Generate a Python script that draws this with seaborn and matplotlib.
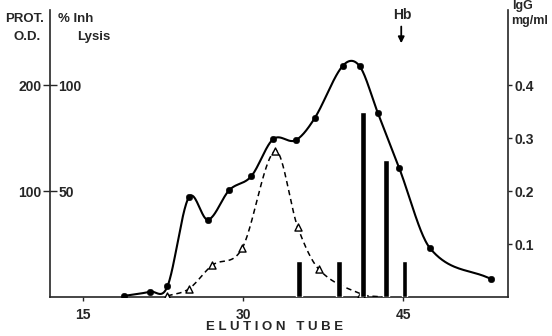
import matplotlib
matplotlib.use("Agg")
import matplotlib.pyplot as plt
import numpy as np
import pandas as pd
import seaborn as sns

# protein O.D. (solid curve, filled circles)
prot_tube = [18.8, 21.3, 22.9, 24.9, 26.7, 28.7, 30.75, 32.8, 34.9, 36.7, 39.3, 40.9, 42.6, 44.6, 47.5, 53.2]
prot_od = [1, 5, 10, 94, 73, 101, 114, 149, 148, 169, 218, 218, 174, 122, 46, 17]

# % inhibition of lysis (dashed curve, open triangles)
inh_tube = [22.9, 24.9, 27.1, 29.9, 33.0, 35.1, 37.1, 41.0]
inh_pct = [0.5, 3.8, 15, 23, 69, 33, 13, 1.5]
inh_tail_tube = [43.0]
inh_tail_pct = [0.0]

# IgG bars
igg_tube = [35.2, 39.0, 41.2, 43.4, 45.1]
igg_conc = [0.068, 0.068, 0.349, 0.258, 0.068]

hb_tube = 44.8


def smooth(x, y, n=40):
    # cubic hermite with catmull-rom style tangents
    x = np.asarray(x, float)
    y = np.asarray(y, float)
    m = np.zeros_like(y)
    m[1:-1] = (y[2:] - y[:-2]) / (x[2:] - x[:-2])
    m[0] = (y[1] - y[0]) / (x[1] - x[0])
    m[-1] = (y[-1] - y[-2]) / (x[-1] - x[-2])
    xs, ys = [], []
    for i in range(len(x) - 1):
        h = x[i + 1] - x[i]
        t = np.linspace(0, 1, n, endpoint=False)
        h00 = 2 * t**3 - 3 * t**2 + 1
        h10 = t**3 - 2 * t**2 + t
        h01 = -2 * t**3 + 3 * t**2
        h11 = t**3 - t**2
        xs.append(x[i] + t * h)
        ys.append(h00 * y[i] + h10 * h * m[i] + h01 * y[i + 1] + h11 * h * m[i + 1])
    xs.append([x[-1]])
    ys.append([y[-1]])
    return pd.DataFrame({"x": np.concatenate(xs), "y": np.concatenate(ys)})


sns.set_style("ticks")
plt.rcParams["font.family"] = ["Liberation Sans", "DejaVu Sans"]
plt.rcParams["font.weight"] = "bold"
plt.rcParams["font.size"] = 10

fig = plt.figure(figsize=(5.52, 3.36), dpi=100)
ax = fig.add_axes([50 / 552, 39 / 336, 458 / 552, 287 / 336])
ax.set_xlim(11.9, 54.8)
ax.set_ylim(0, 271)

ax_inh = ax.twinx()
ax_inh.set_ylim(0, 135.5)
ax_igg = ax.twinx()
ax_igg.set_ylim(0, 0.542)

for a in (ax, ax_inh, ax_igg):
    a.patch.set_visible(False)
    for s in a.spines.values():
        s.set_visible(False)
        s.set_linewidth(1.2)

ax.spines["left"].set_visible(True)
ax.spines["bottom"].set_visible(True)
ax_igg.spines["right"].set_visible(True)

# protein curve
sns.lineplot(data=smooth(prot_tube, prot_od), x="x", y="y", ax=ax, color="black", lw=1.5, sort=False)
sns.scatterplot(x=prot_tube, y=prot_od, ax=ax, color="black", s=22, edgecolor="black", zorder=4)

# inhibition curve
dash = smooth(inh_tube + inh_tail_tube, inh_pct + inh_tail_pct)
sns.lineplot(data=dash, x="x", y="y", ax=ax_inh, color="black", lw=1.1, sort=False, dashes=False)
ax_inh.lines[-1].set_linestyle((0, (3.5, 2.5)))
ax_inh.scatter(inh_tube, inh_pct, marker="^", s=26, facecolor="white", edgecolor="black", linewidth=1.0, zorder=4)

# IgG bars
ax_igg.bar(igg_tube, igg_conc, width=0.55, color="black", zorder=5)

ax.set_xticks([15, 30, 45])
ax.set_yticks([100, 200])
ax.tick_params(axis="x", direction="out", length=3, width=1, pad=5, labelsize=10)
ax.tick_params(axis="y", direction="out", length=5, width=1, pad=1, labelsize=10)
ax.set_xlabel("")
ax.set_ylabel("")

ax_inh.set_yticks([50, 100])
ax_inh.spines["right"].set_position(("axes", 0))
ax_inh.tick_params(axis="y", direction="out", length=5, width=1, pad=1, labelsize=10)
ax_inh.set_ylabel("")

ax_igg.set_yticks([0.1, 0.2, 0.3, 0.4])
ax_igg.set_yticklabels(["0.1", "0.2", "0.3", "0.4"])
ax_igg.tick_params(axis="y", direction="out", length=3, width=1, pad=2, labelsize=10)
ax_igg.set_ylabel("")

# header labels
W, H = 552, 336
fig.text(275 / W, 1 - 327 / H, "E L U T I O N   T U B E", ha="center", va="center", fontsize=9.5, fontweight="bold")
fig.text(25 / W, 1 - 19 / H, "PROT.", ha="center", va="center", fontsize=9.5, fontweight="bold")
fig.text(27 / W, 1 - 37 / H, "O.D.", ha="center", va="center", fontsize=9.5, fontweight="bold")
fig.text(58 / W, 1 - 19 / H, "% Inh", ha="left", va="center", fontsize=9.5, fontweight="bold")
fig.text(110 / W, 1 - 37 / H, "Lysis", ha="right", va="center", fontsize=9.5, fontweight="bold")
fig.text(512 / W, 1 - 6 / H, "IgG", ha="left", va="center", fontsize=9, fontweight="bold")
fig.text(511 / W, 1 - 21 / H, "mg/ml", ha="left", va="center", fontsize=9, fontweight="bold")

# Hb marker
ax.annotate("", xy=(hb_tube, 237), xytext=(hb_tube, 258),
            arrowprops=dict(arrowstyle="-|>", color="black", lw=1.3, mutation_scale=9))
ax.text(hb_tube + 0.1, 260, "Hb", ha="center", va="bottom", fontsize=10, fontweight="bold", clip_on=False)

fig.savefig("out.png", dpi=100)
